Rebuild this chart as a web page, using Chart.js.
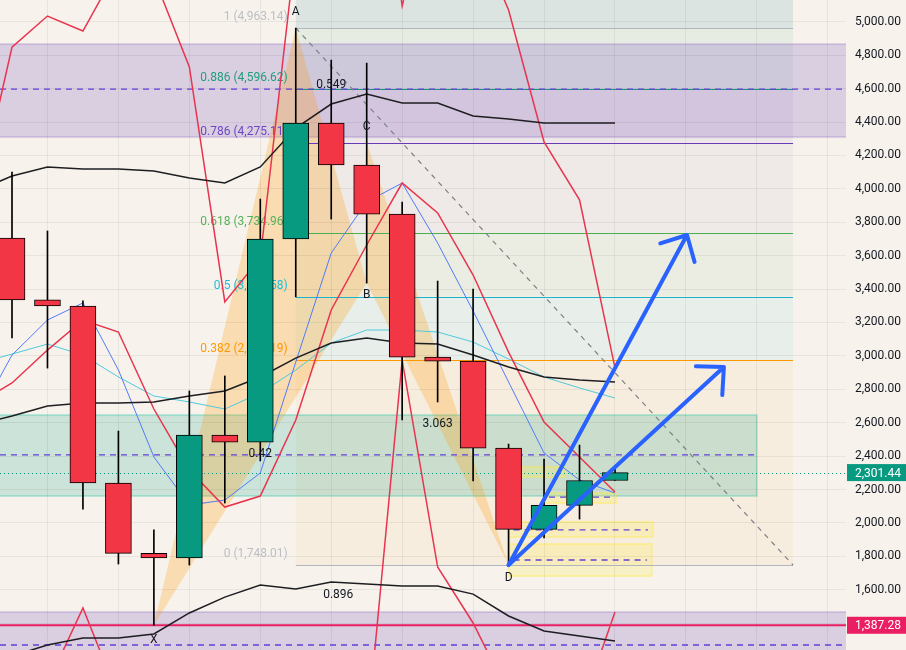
<!DOCTYPE html>
<html>
<head>
<meta charset="utf-8">
<script src="https://cdn.jsdelivr.net/npm/chart.js@4.4.0/dist/chart.umd.min.js"></script>
<style>
html, body { margin: 0; padding: 0; background: #f7f3ec; }
canvas { display: block; }
</style>
</head>
<body>
<canvas id="ethChart" width="906" height="650"></canvas>
<script>
// candles, one per bar
var bars   = [0, 1, 2, 3, 4, 5, 6, 7, 8, 9, 10, 11, 12, 13, 14, 15, 16, 17];
var opens  = [3706, 3335, 3299, 2239, 1818, 1790, 2526, 2484, 3700, 4394, 4143, 3849, 2993, 2969, 2448, 1961, 2105, 2254];
var highs  = [4101, 3748, 3330, 2550, 1958, 2790, 2880, 3939, 4963.14, 4771, 4753, 3921, 3448, 3400, 2472, 2383, 2466, 2341];
var lows   = [3107, 2927, 2083, 1754, 1387.28, 1748, 2119, 2371, 3353, 3819, 3436, 2616, 2724, 2251, 1748.01, 1910, 2023, 2254];
var closes = [3335, 3299, 2239, 1818, 1790, 2526, 2484, 3700, 4394, 4143, 3849, 2993, 2969, 2448, 1961, 2105, 2254, 2301.44];

// indicator lines start one bar before the first visible candle
var lineIdx  = [-1, 0, 1, 2, 3, 4, 5, 6, 7, 8, 9, 10, 11, 12, 13, 14, 15, 16, 17];
var bbUpper  = [3987, 4077, 4131, 4119, 4119, 4107, 4065, 4035, 4131, 4364, 4508, 4568, 4514, 4514, 4436, 4418, 4394, 4394, 4394];
var bbMid    = [2586, 2640, 2700, 2718, 2718, 2724, 2760, 2790, 2874, 2987, 3077, 3107, 3077, 3071, 3005, 2934, 2874, 2856, 2844];
var bbLower  = [1180, 1203, 1269, 1311, 1311, 1335, 1461, 1556, 1628, 1604, 1646, 1634, 1622, 1622, 1574, 1443, 1353, 1323, 1293];
var redMid   = [2712, 2838, 3035, 3215, 3143, 2682, 2317, 2095, 2161, 2616, 3275, 3664, 4035, 3856, 3484, 3023, 2604, 2395, 2185];
var redUpper = [3909, 4849, 5035, 4945, 5328, 5268, 4730, 3323, 3586, 5442, 6275, 6604, 5095, 5976, 5567, 5071, 4281, 3934, 2928];
var redLower = [1515, 827, 1035, 1491, 958, 96, -96, 867, 736, -210, 275, 724, 2975, 1736, 1401, 975, 927, 856, 1467];
var blueLine = [2616, 3005, 3215, 3317, 2916, 2395, 2107, 2137, 2299, 2963, 3616, 3922, 4035, 3676, 3269, 2844, 2419, 2257, 2179];
var cyanLine = [2952, 3011, 3071, 3005, 2874, 2760, 2724, 2682, 2778, 2915, 3077, 3155, 3155, 3143, 3083, 2981, 2874, 2808, 2748];

// price axis
var yTicks = [1400, 1600, 1800, 2000, 2200, 2400, 2600, 2800, 3000, 3200, 3400, 3600, 3800, 4000, 4200, 4400, 4600, 4800, 5000];
var gridIdx = [1, 3, 5, 7, 9, 11, 13, 15, 17, 19, 21, 23];
var priceTags = [2301.44, 1387.28];

// fib retracement A -> D
var fibRatios = ['0', '0.382', '0.5', '0.618', '0.786', '0.886', '1'];
var fibPrices = [1748.01, 2976.19, 3355.58, 3734.96, 4275.11, 4596.62, 4963.14];
var fibSpan = [8, 22.02];

// zones and boxes [low, high]
var purpleZones = [[4310, 4867], [1100, 1467]];
var purpleDashes = [4596.62, 1269];
var tealZone = [2161, 2646];
var tealDash = 2407;
var tealEnd = 21.0;
var yellowBoxes = [[14, 18.04, 1682, 1874, 1778], [14, 18.07, 1916, 2006, 1958], [15, 17.03, 2119, 2179, 2155], [14.4, 15.6, 2275, 2335, null]];

// XABCD pattern
var patternNames = ['X', 'A', 'B', 'C', 'D'];
var patternX = [4, 8, 10, 10, 14];
var patternY = [1387.28, 4963.14, 3436, 4275.11, 1748.01];
var patternRatios = ['0.42', '0.549', '3.063', '0.896'];

// projection arrows from D
var arrowTips = [[19.03, 3724], [20.07, 2933]];

var GREEN = '#089981', RED = '#f23645';
var money = function(v){ return v.toLocaleString('en-US', {minimumFractionDigits: 2, maximumFractionDigits: 2}); };

var fibLine  = ['#b2b5be', '#ff9800', '#1cb3c8', '#4caf50', '#673ab7', '#14997a', '#b2b5be'];
var fibText  = ['#bcbec6', '#ff9800', '#1fbcd8', '#55b25a', '#6f45c4', '#1f9e7c', '#bcbec6'];
var fibFill  = ['#f7edde', '#e8efea', '#ecede2', '#efeae7', '#eee8e8', '#e6ece2', '#dce4e2'];

var overlays = {
    id: 'overlays',
    beforeDraw: function(chart){
        var ctx = chart.ctx, a = chart.chartArea, xs = chart.scales.x, ys = chart.scales.y;
        var X = function(v){ return xs.getPixelForValue(v); };
        var Y = function(v){ return ys.getPixelForValue(v); };
        ctx.save();
        ctx.fillStyle = '#f7f3ec';
        ctx.fillRect(0, 0, chart.width, chart.height);
        ctx.beginPath();
        ctx.rect(a.left, a.top, a.right - a.left, a.bottom - a.top);
        ctx.clip();

        // fib bands
        var f0 = X(fibSpan[0]), f1 = X(fibSpan[1]);
        for (var i = 0; i < fibPrices.length; i++) {
            var lo = Y(fibPrices[i]);
            var hi = i + 1 < fibPrices.length ? Y(fibPrices[i + 1]) : a.top;
            ctx.fillStyle = fibFill[i];
            ctx.fillRect(f0, hi, f1 - f0, lo - hi);
        }

        // purple zones
        purpleZones.forEach(function(z){
            var t = Y(z[1]), b = Y(z[0]);
            ctx.fillStyle = 'rgba(126,87,194,0.24)';
            ctx.fillRect(a.left, t, a.right - a.left, b - t);
            ctx.strokeStyle = 'rgba(126,87,194,0.22)';
            ctx.lineWidth = 2;
            ctx.strokeRect(a.left - 2, t, a.right - a.left + 4, b - t);
        });

        // teal zone
        var tt = Y(tealZone[1]), tb = Y(tealZone[0]), te = X(tealEnd);
        ctx.fillStyle = 'rgba(8,153,129,0.18)';
        ctx.fillRect(a.left, tt, te - a.left, tb - tt);
        ctx.strokeStyle = 'rgba(40,200,170,0.3)';
        ctx.lineWidth = 2;
        ctx.strokeRect(a.left - 2, tt, te - a.left + 2, tb - tt);

        // yellow boxes
        yellowBoxes.forEach(function(bx){
            var l = X(bx[0]), r = X(bx[1]), t = Y(bx[3]), b = Y(bx[2]);
            ctx.fillStyle = 'rgba(255,235,59,0.22)';
            ctx.fillRect(l, t, r - l, b - t);
            ctx.strokeStyle = 'rgba(255,235,59,0.35)';
            ctx.lineWidth = 2;
            ctx.strokeRect(l, t, r - l, b - t);
        });

        // XAB and BCD triangles
        ctx.fillStyle = 'rgba(255,152,0,0.25)';
        [[0, 1, 2], [2, 3, 4]].forEach(function(tri){
            ctx.beginPath();
            tri.forEach(function(k, n){
                if (n === 0) ctx.moveTo(X(patternX[k]), Y(patternY[k]));
                else ctx.lineTo(X(patternX[k]), Y(patternY[k]));
            });
            ctx.closePath();
            ctx.fill();
        });
        ctx.restore();
    },
    beforeDatasetsDraw: function(chart){
        var ctx = chart.ctx, a = chart.chartArea, xs = chart.scales.x, ys = chart.scales.y;
        var X = function(v){ return xs.getPixelForValue(v); };
        var Y = function(v){ return ys.getPixelForValue(v); };
        ctx.save();
        ctx.beginPath();
        ctx.rect(a.left, a.top, a.right - a.left, a.bottom - a.top);
        ctx.clip();

        // fib lines + labels
        var f0 = X(fibSpan[0]), f1 = X(fibSpan[1]);
        ctx.font = '12px Roboto, sans-serif';
        ctx.textAlign = 'right';
        ctx.textBaseline = 'middle';
        fibPrices.forEach(function(p, i){
            var yy = Math.round(Y(p)) + 0.5;
            ctx.strokeStyle = fibLine[i];
            ctx.lineWidth = 1;
            ctx.beginPath(); ctx.moveTo(f0, yy); ctx.lineTo(f1, yy); ctx.stroke();
            ctx.fillStyle = fibText[i];
            ctx.fillText(fibRatios[i] + ' (' + money(p) + ')', f0 - 8, yy - 12);
        });

        // dashed purple lines
        ctx.strokeStyle = '#6240d8';
        ctx.lineWidth = 1.3;
        ctx.setLineDash([6, 5]);
        purpleDashes.forEach(function(p){
            ctx.beginPath(); ctx.moveTo(a.left, Y(p)); ctx.lineTo(a.right, Y(p)); ctx.stroke();
        });
        ctx.beginPath(); ctx.moveTo(a.left, Y(tealDash)); ctx.lineTo(X(tealEnd), Y(tealDash)); ctx.stroke();
        yellowBoxes.forEach(function(bx){
            if (bx[4] === null) return;
            ctx.beginPath(); ctx.moveTo(X(bx[0]) + 5, Y(bx[4])); ctx.lineTo(X(bx[1]) - 5, Y(bx[4])); ctx.stroke();
        });

        // fib trend line
        ctx.strokeStyle = '#7d808a';
        ctx.lineWidth = 1.2;
        ctx.setLineDash([5, 5]);
        ctx.beginPath();
        ctx.moveTo(f0, Y(fibPrices[6]));
        ctx.lineTo(f1, Y(fibPrices[0]));
        ctx.stroke();

        // current price
        ctx.strokeStyle = GREEN;
        ctx.lineWidth = 1;
        ctx.setLineDash([1, 3]);
        var cy = Math.round(Y(priceTags[0])) + 0.5;
        ctx.beginPath(); ctx.moveTo(a.left, cy); ctx.lineTo(a.right, cy); ctx.stroke();

        // support level
        ctx.setLineDash([]);
        ctx.strokeStyle = '#e91e63';
        ctx.lineWidth = 2;
        ctx.beginPath(); ctx.moveTo(a.left, Y(priceTags[1])); ctx.lineTo(a.right, Y(priceTags[1])); ctx.stroke();
        ctx.restore();
    },
    afterDatasetsDraw: function(chart){
        var ctx = chart.ctx, a = chart.chartArea, xs = chart.scales.x, ys = chart.scales.y;
        var X = function(v){ return xs.getPixelForValue(v); };
        var Y = function(v){ return ys.getPixelForValue(v); };
        ctx.save();
        ctx.beginPath();
        ctx.rect(a.left, a.top, a.right - a.left, a.bottom - a.top);
        ctx.clip();

        // arrows
        ctx.strokeStyle = '#2962ff';
        ctx.lineWidth = 4;
        ctx.lineCap = 'round';
        ctx.lineJoin = 'round';
        var x0 = X(patternX[4]), y0 = Y(patternY[4]);
        arrowTips.forEach(function(tip){
            var x1 = X(tip[0]), y1 = Y(tip[1]);
            var ang = Math.atan2(y1 - y0, x1 - x0), len = 28, sp = 0.77;
            ctx.beginPath();
            ctx.moveTo(x0, y0); ctx.lineTo(x1, y1);
            ctx.moveTo(x1 - len * Math.cos(ang - sp), y1 - len * Math.sin(ang - sp));
            ctx.lineTo(x1, y1);
            ctx.lineTo(x1 - len * Math.cos(ang + sp), y1 - len * Math.sin(ang + sp));
            ctx.stroke();
        });

        // pattern labels
        ctx.font = '12px Roboto, sans-serif';
        ctx.fillStyle = '#131722';
        ctx.textAlign = 'center';
        ctx.textBaseline = 'middle';
        var shift = [15, -16, 12, -16, 13];
        patternNames.forEach(function(n, k){
            ctx.fillText(n, X(patternX[k]), Y(patternY[k]) + shift[k]);
        });
        var pairs = [[0, 2], [1, 3], [2, 4], [0, 4]];
        pairs.forEach(function(p, k){
            var mx = (X(patternX[p[0]]) + X(patternX[p[1]])) / 2;
            var my = (Y(patternY[p[0]]) + Y(patternY[p[1]])) / 2;
            ctx.fillText(patternRatios[k], mx + (k === 3 ? 7 : 0), my);
        });
        ctx.restore();
    },
    afterDraw: function(chart){
        var ctx = chart.ctx, a = chart.chartArea, ys = chart.scales.y;
        var tagBg = [GREEN, '#e91e63'];
        ctx.save();
        ctx.font = '12px Roboto, sans-serif';
        ctx.textAlign = 'left';
        ctx.textBaseline = 'middle';
        priceTags.forEach(function(v, k){
            var yy = ys.getPixelForValue(v);
            ctx.fillStyle = tagBg[k];
            ctx.fillRect(a.right + 1, yy - 8.5, chart.width - a.right - 1, 17);
            ctx.fillStyle = '#ffffff';
            ctx.fillText(money(v), a.right + 9, yy + 1);
        });
        ctx.restore();
    }
};

var lineSet = function(values, color, width){
    return {
        type: 'line',
        data: lineIdx.map(function(xv, k){ return {x: xv, y: values[k]}; }),
        borderColor: color,
        borderWidth: width,
        pointRadius: 0,
        tension: 0,
        order: 2
    };
};

var ctx = document.getElementById('ethChart').getContext('2d');
var ethChart = new Chart(ctx, {
    type: 'line',
    data: {
        datasets: [
            {
                type: 'bar',
                data: bars.map(function(xv, k){ return {x: xv, y: [opens[k], closes[k]]}; }),
                backgroundColor: bars.map(function(xv, k){ return closes[k] >= opens[k] ? GREEN : RED; }),
                borderColor: '#000000',
                borderWidth: 1,
                borderSkipped: false,
                barThickness: 26,
                maxBarThickness: 26,
                grouped: false,
                order: 0
            },
            {
                type: 'bar',
                data: bars.map(function(xv, k){ return {x: xv, y: [lows[k], highs[k]]}; }),
                backgroundColor: '#000000',
                borderWidth: 0,
                barThickness: 1,
                maxBarThickness: 1,
                grouped: false,
                order: 1
            },
            lineSet(bbUpper, '#1e1e22', 1.5),
            lineSet(bbMid, '#1e1e22', 1.5),
            lineSet(bbLower, '#1e1e22', 1.5),
            lineSet(redUpper, '#e8344f', 1.5),
            lineSet(redMid, '#e8344f', 1.5),
            lineSet(redLower, '#e8344f', 1.5),
            lineSet(blueLine, '#4f7cf7', 1),
            lineSet(cyanLine, '#4fcadb', 1)
        ]
    },
    options: {
        responsive: false,
        animation: false,
        devicePixelRatio: 1,
        layout: { padding: 0 },
        plugins: { legend: { display: false }, tooltip: { enabled: false } },
        scales: {
            x: {
                type: 'linear',
                min: -0.3383,
                max: 23.513,
                offset: false,
                ticks: { display: false },
                grid: { color: 'rgba(0,0,0,0.06)', drawTicks: false, offset: false },
                border: { display: false },
                afterBuildTicks: function(ax){ ax.ticks = gridIdx.map(function(v){ return {value: v}; }); },
                afterFit: function(ax){ ax.height = 0; ax.paddingLeft = 0; ax.paddingRight = 0; }
            },
            y: {
                type: 'linear',
                position: 'right',
                min: 1239.2,
                max: 5130.8,
                ticks: {
                    padding: 9,
                    color: '#131722',
                    font: { family: 'Roboto', size: 12 },
                    callback: function(v){ return money(v); }
                },
                grid: { color: 'rgba(0,0,0,0.06)', drawTicks: false },
                border: { display: false },
                afterBuildTicks: function(ax){ ax.ticks = yTicks.map(function(v){ return {value: v}; }); },
                afterFit: function(ax){ ax.width = 60; ax.paddingTop = 0; ax.paddingBottom = 0; }
            }
        }
    },
    plugins: [overlays]
});
</script>
</body>
</html>
